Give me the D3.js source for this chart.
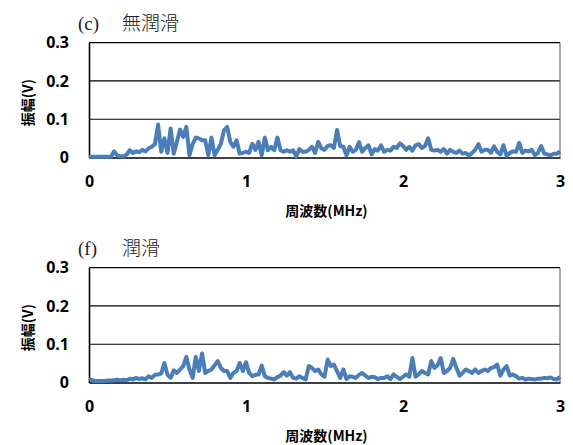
<!DOCTYPE html>
<html>
<head>
<meta charset="utf-8">
<script src="https://cdn.jsdelivr.net/npm/d3@7"></script>
<style>
  body { margin: 0; background: #fff; }
  svg { display: block; }
</style>
</head>
<body>
<svg id="chart" width="573" height="445"></svg>
<script>
// frequency grid: one sample every 0.02 MHz from 0 to 3 MHz
const freqStep = 0.02;
const xTicks = [0, 1, 2, 3];
const yTicks = [0, 0.1, 0.2, 0.3];
const xTitle = "周波数(MHz)";
const yTitle = "振幅(V)";

// (c) 無潤滑
const ampDry = [
  0.002, 0.002, 0.002, 0.002, 0.002, 0.002, 0.002, 0.002, 0.016, 0.005,
  0.003, 0.003, 0.008, 0.019, 0.012, 0.016, 0.014, 0.02, 0.016, 0.024,
  0.028, 0.035, 0.086, 0.015, 0.05, 0.012, 0.076, 0.01, 0.041, 0.073,
  0.054, 0.08, 0.006, 0.035, 0.052, 0.05, 0.045, 0.045, 0.006, 0.052,
  0.006, 0.02, 0.036, 0.071, 0.08, 0.041, 0.028, 0.045, 0.01, 0.012,
  0.015, 0.012, 0.036, 0.02, 0.041, 0.006, 0.052, 0.019, 0.028, 0.019,
  0.052, 0.019, 0.015, 0.019, 0.015, 0.019, 0.003, 0.022, 0.015, 0.015,
  0.02, 0.028, 0.012, 0.041,
  0.024, 0.02, 0.03, 0.032, 0.025, 0.072, 0.03, 0.028, 0.006, 0.028,
  0.015, 0.02, 0.04, 0.015, 0.025, 0.032, 0.008, 0.022, 0.018, 0.032,
  0.015, 0.02, 0.018, 0.028, 0.025, 0.037, 0.03, 0.02, 0.028, 0.018,
  0.032, 0.035, 0.025, 0.03, 0.05, 0.02, 0.018, 0.02, 0.015, 0.022,
  0.01, 0.02, 0.015, 0.012, 0.018, 0.01, 0.012, 0.005, 0.012, 0.02,
  0.035, 0.015, 0.02, 0.02, 0.012, 0.029, 0.015, 0.008, 0.032, 0.004,
  0.012, 0.016, 0.015, 0.038, 0.012, 0.018, 0.016, 0.02, 0.006, 0.012,
  0.03, 0.01, 0.008, 0.006, 0.01, 0.01, 0.016
];

// (f) 潤滑
const ampLub = [
  0.01, 0.006, 0.004, 0.004, 0.004, 0.004, 0.005, 0.005, 0.006, 0.007,
  0.006, 0.007, 0.006, 0.01, 0.008, 0.012, 0.009, 0.011, 0.008, 0.0165,
  0.012, 0.02, 0.021, 0.0235, 0.051, 0.02, 0.012, 0.032, 0.025, 0.034,
  0.043, 0.067, 0.034, 0.012, 0.067, 0.03, 0.076, 0.025, 0.03, 0.034,
  0.045, 0.056, 0.038, 0.03, 0.03, 0.012, 0.025, 0.03, 0.051, 0.03,
  0.053, 0.025, 0.0165, 0.02, 0.021, 0.044, 0.0165, 0.012, 0.01, 0.008,
  0.014, 0.018, 0.027, 0.018, 0.027, 0.012, 0.01, 0.0165, 0.012, 0.008,
  0.043, 0.038, 0.03, 0.034, 0.021, 0.015, 0.06, 0.043, 0.047, 0.03,
  0.012, 0.034, 0.009, 0.0165, 0.015, 0.012, 0.02, 0.025, 0.018, 0.012,
  0.015, 0.014, 0.009, 0.012, 0.012, 0.0165, 0.009, 0.021, 0.015, 0.009,
  0.015, 0.021, 0.015, 0.064, 0.015, 0.021, 0.03, 0.025, 0.021, 0.056,
  0.038, 0.045, 0.064, 0.025, 0.03, 0.038, 0.062, 0.038, 0.018, 0.025,
  0.034, 0.03, 0.025, 0.034, 0.025, 0.03, 0.034, 0.03, 0.038, 0.04,
  0.047, 0.018, 0.034, 0.043, 0.018, 0.021, 0.0165, 0.01, 0.012, 0.008,
  0.01, 0.009, 0.008, 0.01, 0.01, 0.012, 0.011, 0.013, 0.009, 0.008,
  0.015
];

const panels = [
  { tag: "(c)", name: "無潤滑", values: ampDry, top: 42.7 },
  { tag: "(f)", name: "潤滑", values: ampLub, top: 267.7 }
];

const svg = d3.select("#chart");
const left = 89, right = 560, plotH = 114.8;
const jpFont = "'Noto Sans CJK JP', sans-serif";
const numFont = "'Open Sans', 'Liberation Sans', sans-serif";

const x = d3.scaleLinear().domain([0, 3]).range([left, right]);

panels.forEach(p => {
  const y = d3.scaleLinear().domain([0, 0.3]).range([p.top + plotH, p.top]);
  const g = svg.append("g");

  // title
  const title = g.append("text")
    .attr("y", p.top - 13)
    .attr("font-size", 19)
    .attr("fill", "#222");
  title.append("tspan").attr("x", 78).attr("font-family", "'Liberation Serif', serif").text(p.tag);
  title.append("tspan").attr("x", 122).attr("font-family", jpFont).attr("font-weight", 300).text(p.name);

  // gridlines
  g.selectAll(".grid").data(yTicks.slice(1)).enter().append("line")
    .attr("x1", left).attr("x2", right)
    .attr("y1", d => y(d)).attr("y2", d => y(d))
    .attr("stroke", "#000").attr("stroke-width", 1.2);

  // right border
  g.append("line")
    .attr("x1", right).attr("x2", right)
    .attr("y1", y(0.3)).attr("y2", y(0))
    .attr("stroke", "#555").attr("stroke-width", 1);

  // y axis
  const yAxis = g.append("g")
    .attr("transform", `translate(${left},0)`)
    .call(d3.axisLeft(y).tickValues(yTicks).tickSize(0).tickPadding(20)
      .tickFormat(d => d === 0 ? "0" : d3.format(".1f")(d)));
  yAxis.select(".domain").attr("stroke", "#000").attr("stroke-width", 1.6);
  yAxis.selectAll("text")
    .attr("font-family", numFont).attr("font-weight", "bold")
    .attr("font-size", 16).attr("fill", "#000");

  // x axis
  const xAxis = g.append("g")
    .attr("transform", `translate(0,${y(0)})`)
    .call(d3.axisBottom(x).tickValues(xTicks).tickSize(0).tickPadding(18)
      .tickFormat(d3.format("d")));
  xAxis.select(".domain").attr("stroke", "#000").attr("stroke-width", 1.6);
  xAxis.selectAll("text")
    .attr("font-family", numFont).attr("font-weight", "bold")
    .attr("font-size", 16).attr("fill", "#000");

  // axis titles
  g.append("text")
    .attr("x", (left + right) / 2 + 2)
    .attr("y", y(0) + 58)
    .attr("text-anchor", "middle")
    .attr("font-family", jpFont).attr("font-weight", "bold")
    .attr("font-size", 14).attr("fill", "#000")
    .text(xTitle);

  g.append("text")
    .attr("transform", `translate(33,${p.top + 60}) rotate(-90)`)
    .attr("text-anchor", "middle")
    .attr("font-family", jpFont).attr("font-weight", "bold")
    .attr("font-size", 14).attr("fill", "#000")
    .text(yTitle);

  // series
  g.append("path")
    .datum(p.values)
    .attr("fill", "none")
    .attr("stroke", "#4a7ebb")
    .attr("stroke-width", 4)
    .attr("stroke-linejoin", "round")
    .attr("d", d3.line()
      .x((d, i) => x(i * freqStep))
      .y(d => y(d)));
});
</script>
</body>
</html>
